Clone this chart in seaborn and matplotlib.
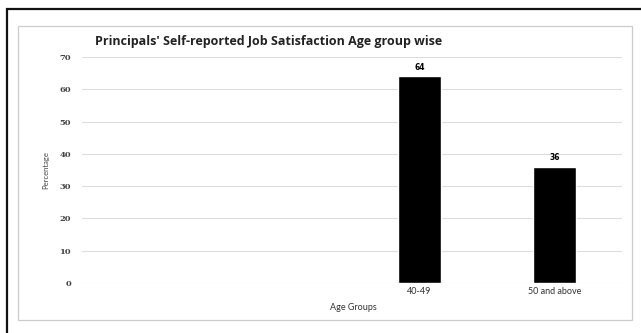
import matplotlib
matplotlib.use("Agg")
import matplotlib.pyplot as plt
import seaborn as sns
from matplotlib.patches import Rectangle

# Data
age_groups = ["40-49", "50 and above"]
percentages = [64, 36]
y_ticks = [0, 10, 20, 30, 40, 50, 60, 70]

sns.set_theme(style="white")
plt.rcParams["font.family"] = ["Lato", "DejaVu Sans"]

W, H = 641, 333
fig = plt.figure(figsize=(W / 100, H / 100), dpi=100)
fig.patch.set_facecolor("white")

ax = fig.add_axes([82 / W, 1 - 283 / H, (622 - 82) / W, (283 - 57) / H])
sns.barplot(x=age_groups, y=percentages, color="black", width=0.32,
            saturation=1, ax=ax, zorder=3)

ax.set_xlim(-2.5, 1.5)
ax.set_ylim(0, 70)
ax.set_yticks(y_ticks)
ax.set_yticklabels([str(t) for t in y_ticks], family="DejaVu Serif",
                   fontsize=6, fontweight="bold", color="#444444")
ax.tick_params(axis="y", length=0, pad=8)
ax.tick_params(axis="x", length=0, pad=3, labelsize=6.5, colors="#333333")
ax.grid(axis="y", color="#dddddd", linewidth=0.8, zorder=0)
for s in ax.spines.values():
    s.set_visible(False)
ax.set_xlabel("")
ax.set_ylabel("Percentage", fontsize=5.5, color="#444444", labelpad=7)

# Value labels above the bars
for i, v in enumerate(percentages):
    ax.text(i, v + 1.5, str(v), ha="center", va="bottom", fontsize=5.5,
            fontweight="bold", color="black", family="DejaVu Sans")

fig.text(269 / W, 1 - 42 / H, "Principals' Self-reported Job Satisfaction Age group wise",
         ha="center", va="center", fontsize=9, fontweight="bold", color="#222222",
         family="Open Sans")
fig.text(353 / W, 1 - 307 / H, "Age Groups", ha="center", va="center",
         fontsize=6.5, color="#333333")

# Outer dark frame and inner light chart border
fig.patches.append(Rectangle((7 / W, -0.05), 1.1, 1 - 9 / H + 0.05,
                             transform=fig.transFigure, fill=False,
                             edgecolor="#111111", linewidth=1.6))
fig.patches.append(Rectangle((18 / W, 1 - 320 / H), (632 - 18) / W, (320 - 26) / H,
                             transform=fig.transFigure, fill=False,
                             edgecolor="#cccccc", linewidth=0.9))

fig.savefig("out.png", dpi=100)
